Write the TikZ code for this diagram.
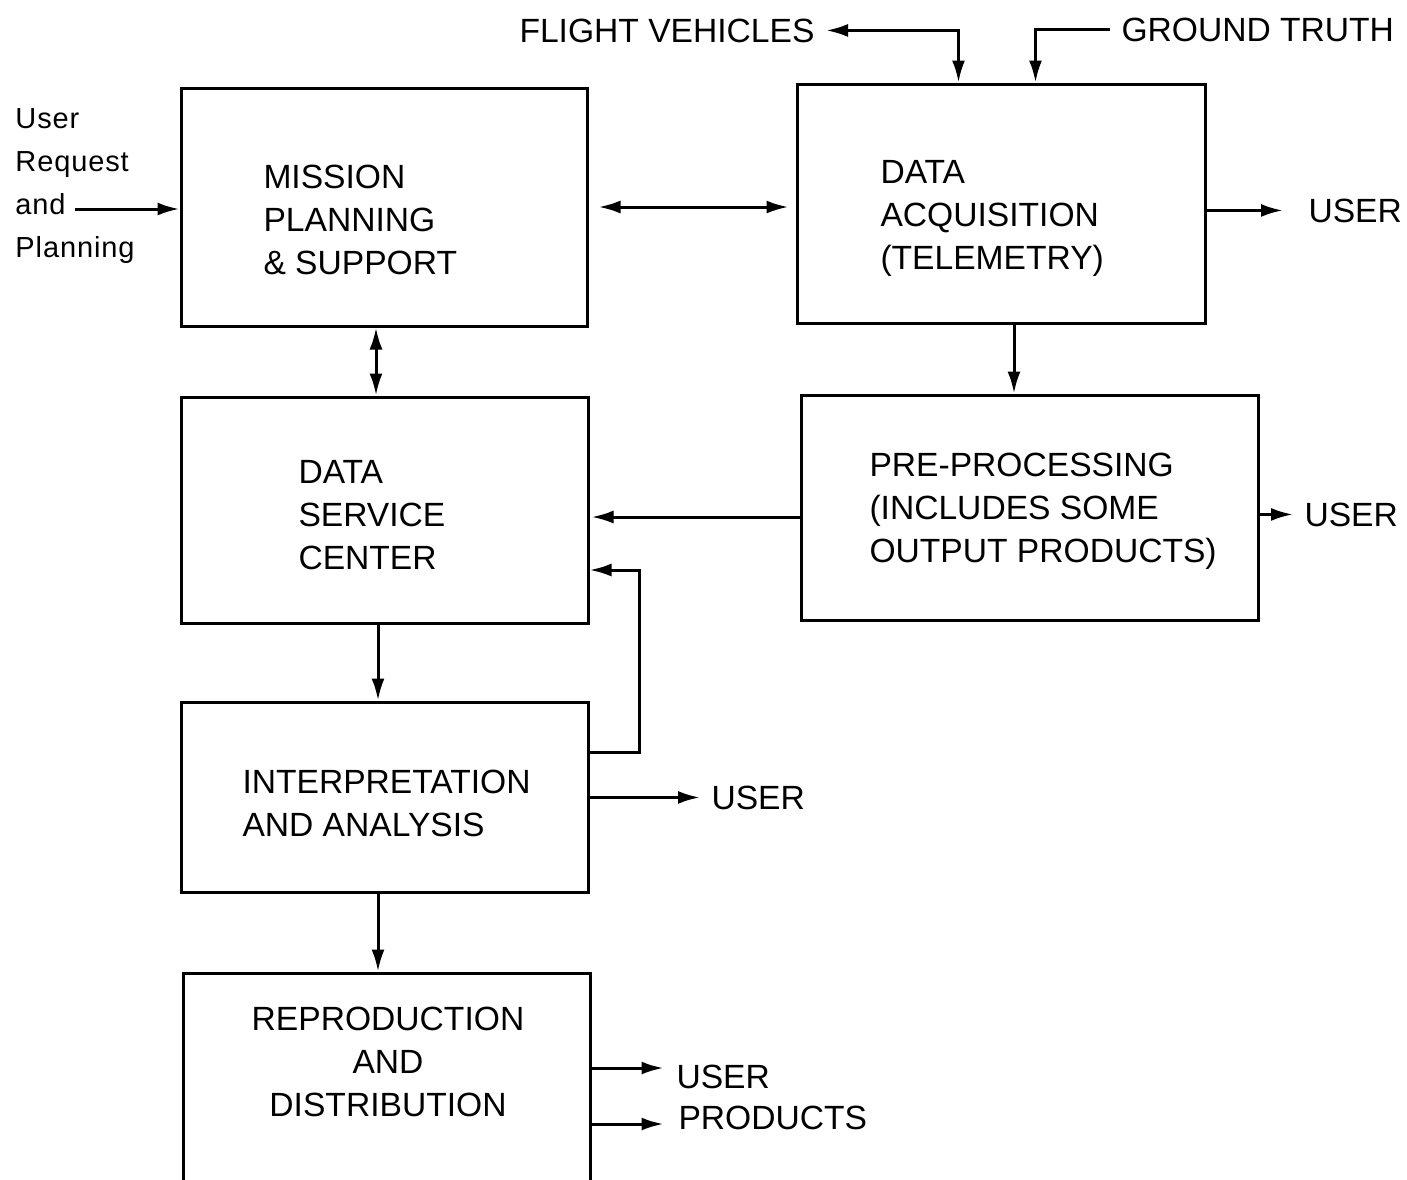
\documentclass[tikz,border=0pt]{standalone}
\usepackage{fontspec}
\setmainfont{Liberation Sans}
\newfontfamily\userfont[LetterSpace=3]{Liberation Sans}
\usetikzlibrary{arrows.meta,calc}
\begin{document}
\begin{tikzpicture}[x=0.5pt,y=-0.5pt, line width=1.5pt,
  box/.style={draw, rectangle, inner sep=0pt, line width=1.5pt},
  txt/.style={font=\fontsize{16.8}{21.4}\selectfont, inner sep=0pt, align=left},
  utxt/.style={font=\userfont\fontsize{14.5}{21.5}\selectfont, inner sep=0pt, align=left},
  lbl/.style={font=\fontsize{16.8}{21.4}\selectfont, inner sep=5pt},
  arr/.style={-{Latex[length=11pt,width=6.5pt]}},
  darr/.style={{Latex[length=11pt,width=6.5pt]}-{Latex[length=11pt,width=6.5pt]}}]
\useasboundingbox (0,0) rectangle (1407,1179);
\fill[white] (0,0) rectangle (1407,1179);

% boxes
\node[box, minimum width=203pt, minimum height=119pt] (mps) at (384,207) {};
\node[box, minimum width=204pt, minimum height=119.5pt] (daq) at (1001,203.5) {};
\node[box, minimum width=203.5pt, minimum height=113pt] (dsc) at (384.5,510) {};
\node[box, minimum width=228.5pt, minimum height=112.5pt] (pre) at (1029.5,507.5) {};
\node[box, minimum width=203.5pt, minimum height=95pt] (ia) at (384.5,797) {};
\node[box, minimum width=203.5pt, minimum height=106pt] (rd) at (386.5,1079) {};

% box texts
\node[txt, anchor=north west] (mpsT) at (262,164) {MISSION\\PLANNING\\\& SUPPORT};
\node[txt, anchor=north west] (daqT) at (879,159) {DATA\\ACQUISITION\\(TELEMETRY)};
\node[txt, anchor=north west] (dscT) at (297,459) {DATA\\SERVICE\\CENTER};
\node[txt, anchor=north west] (preT) at (868,452) {PRE-PROCESSING\\(INCLUDES SOME\\OUTPUT PRODUCTS)};
\node[txt, anchor=north west] (iaT) at (241,769) {INTERPRETATION\\AND ANALYSIS};
\node[txt, align=center, anchor=north] (rdT) at (388,1006) {REPRODUCTION\\AND\\DISTRIBUTION};

% outside labels
\node[utxt, anchor=north west] (ur) at (14,107) {User\\Request\\and\\Planning};
\node[lbl, anchor=base west] (fv) at (508,42) {FLIGHT VEHICLES};
\node[lbl, anchor=base west] (gt) at (1110,41) {GROUND TRUTH};
\node[lbl, anchor=base west] (u1) at (1297,222) {USER};
\node[lbl, anchor=base west] (u2) at (1293,526) {USER};
\node[lbl, anchor=base west] (u3) at (700,809) {USER};
\node[lbl, anchor=base west] (u4) at (665,1088) {USER};
\node[lbl, anchor=base west] (u5) at (667,1129) {PRODUCTS};

% connectors
\draw[darr] (fv.east) -| ([xshift=81.5pt]daq.north west);
\draw[arr] (gt.west) -| ([xshift=120pt]daq.north west);
\coordinate (urA) at (75,209);
\draw[arr] (urA) -- (urA -| mps.west);
\draw[darr, shorten <=5pt, shorten >=3.5pt] (mps.east) -- (mps.east -| daq.west);
\draw[darr] ([xshift=-4pt]mps.south) -- ([xshift=-4pt]mps.south |- dsc.north);
\draw[arr, shorten >=7pt] (daq.east |- u1.west) -- (u1.west);
\draw[arr] ([xshift=6.5pt]daq.south) -- ([xshift=6.5pt]daq.south |- pre.north);
\draw[arr, shorten >=1pt] ([yshift=-4.75pt]pre.west) -- ([yshift=-4.75pt]pre.west -| dsc.east);
\draw[arr] (pre.east |- u2.west) -- (u2.west);
\draw[arr] ([xshift=-3.25pt]dsc.south) -- ([xshift=-3.25pt]dsc.south |- ia.north);
\draw[arr] ([yshift=22.5pt]ia.east) -- ++(25pt,0) |- ([yshift=-30pt]dsc.east);
\draw[arr] (ia.east |- u3.west) -- (u3.west);
\draw[arr] ([xshift=-3.25pt]ia.south) -- ([xshift=-3.25pt]ia.south |- rd.north);
\draw[arr] ([yshift=5.5pt]rd.east) -- ++(36pt,0);
\draw[arr] ([yshift=-22.5pt]rd.east) -- ++(36pt,0);
\end{tikzpicture}
\end{document}
